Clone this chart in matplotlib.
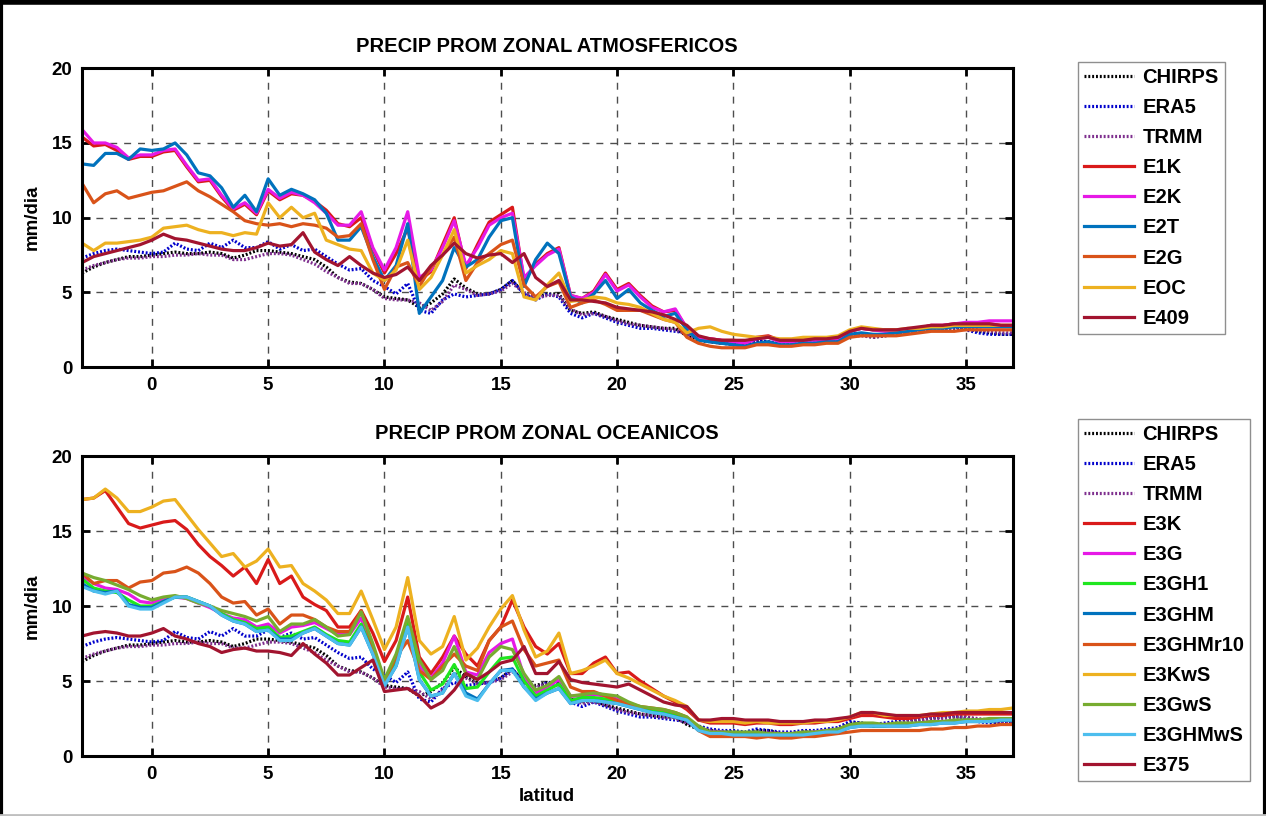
import numpy as np
import matplotlib
matplotlib.use('Agg')
import matplotlib.pyplot as plt
from matplotlib.lines import Line2D

# latitud (grados), paso de 0.5
lat = np.arange(-3, 37.01, 0.5)

# referencias (iguales en ambos paneles)
chirps = [6.3, 6.7, 7.0, 7.2, 7.4, 7.4, 7.5, 7.6, 7.7, 7.6,
          7.6, 7.7, 7.6, 7.3, 7.5, 7.8, 7.8, 7.7, 7.6, 7.4,
          7.2, 6.7, 6.0, 5.7, 5.6, 5.2, 4.7, 4.6, 4.5, 4.0,
          4.3, 4.9, 5.9, 5.3, 4.9, 4.9, 5.2, 5.8, 4.9, 4.7,
          4.9, 4.9, 3.8, 3.6, 3.7, 3.4, 3.2, 3.0, 2.8, 2.7,
          2.6, 2.6, 2.1, 1.8, 1.7, 1.6, 1.6, 1.5, 1.7, 1.7,
          1.5, 1.5, 1.6, 1.6, 1.7, 1.8, 2.2, 2.2, 2.0, 2.1,
          2.2, 2.3, 2.4, 2.5, 2.6, 2.6, 2.6, 2.4, 2.3, 2.2,
          2.2]
era5 = [7.3, 7.6, 7.8, 7.9, 7.8, 7.7, 7.6, 7.7, 8.3, 7.9,
        7.8, 8.3, 8.0, 8.5, 8.0, 8.0, 8.4, 7.9, 8.2, 7.8,
        7.9, 7.4, 6.9, 6.5, 6.6, 5.8, 5.4, 4.9, 5.6, 3.8,
        3.6, 4.5, 4.9, 4.7, 4.8, 4.9, 5.2, 5.8, 4.9, 4.5,
        4.9, 4.7, 3.6, 3.3, 3.6, 3.3, 3.0, 2.8, 2.6, 2.6,
        2.5, 2.4, 2.3, 2.0, 1.8, 1.7, 1.7, 1.6, 1.8, 1.7,
        1.6, 1.6, 1.7, 1.7, 1.8, 1.9, 2.3, 2.2, 2.1, 2.2,
        2.3, 2.4, 2.5, 2.6, 2.6, 2.7, 2.5, 2.3, 2.2, 2.2,
        2.2]
trmm = [6.5, 6.8, 7.0, 7.2, 7.3, 7.3, 7.4, 7.4, 7.5, 7.5,
        7.6, 7.5, 7.5, 7.2, 7.2, 7.4, 7.6, 7.6, 7.5, 7.2,
        6.9, 6.4, 6.0, 5.6, 5.6, 5.2, 4.6, 4.5, 4.5, 4.3,
        3.8, 4.4, 5.5, 5.2, 4.8, 4.9, 5.1, 5.6, 5.0, 4.6,
        4.8, 4.8, 3.9, 3.5, 3.6, 3.4, 3.1, 2.9, 2.8, 2.7,
        2.6, 2.5, 2.2, 1.9, 1.7, 1.6, 1.5, 1.5, 1.6, 1.6,
        1.5, 1.5, 1.6, 1.6, 1.7, 1.8, 2.1, 2.1, 2.0, 2.1,
        2.2, 2.3, 2.4, 2.5, 2.5, 2.6, 2.6, 2.5, 2.4, 2.3,
        2.3]

# experimentos atmosfericos
e1k = [15.4, 14.8, 14.9, 14.5, 13.9, 14.1, 14.1, 14.4, 14.5, 13.4,
       12.4, 12.5, 11.4, 10.5, 10.9, 10.2, 11.8, 11.2, 11.6, 11.5,
       11.1, 10.5, 9.6, 9.4, 10.0, 7.9, 6.3, 7.6, 9.3, 5.8,
       6.4, 8.2, 10.0, 6.6, 8.2, 9.7, 10.2, 10.7, 5.8, 6.9,
       7.6, 8.0, 4.8, 4.6, 5.1, 6.3, 5.2, 5.6, 4.8, 4.1,
       3.7, 3.8, 2.6, 2.0, 1.9, 1.8, 1.8, 1.7, 2.0, 2.1,
       1.8, 1.8, 1.8, 1.9, 1.9, 2.0, 2.4, 2.6, 2.5, 2.5,
       2.5, 2.5, 2.6, 2.8, 2.8, 2.9, 2.9, 2.9, 2.9, 2.8,
       2.8]
e2k = [15.9, 15.0, 15.0, 14.7, 14.0, 14.2, 14.2, 14.5, 14.6, 13.5,
       12.5, 12.6, 11.5, 10.6, 11.0, 10.3, 11.9, 11.3, 11.7, 11.5,
       11.0, 10.3, 9.5, 9.5, 10.4, 8.0, 6.5, 8.0, 10.4, 6.0,
       6.5, 8.0, 9.8, 6.8, 8.0, 9.5, 10.0, 10.3, 6.0, 6.8,
       7.5, 7.9, 4.8, 4.6, 5.0, 6.2, 5.1, 5.5, 4.7, 4.0,
       3.7, 3.9, 2.6, 1.9, 1.9, 1.8, 1.7, 1.6, 1.9, 2.0,
       1.7, 1.7, 1.8, 1.8, 1.8, 1.9, 2.4, 2.6, 2.5, 2.4,
       2.4, 2.5, 2.6, 2.8, 2.8, 2.9, 3.0, 3.0, 3.1, 3.1,
       3.1]
e2t = [13.6, 13.5, 14.3, 14.3, 13.9, 14.6, 14.5, 14.6, 15.0, 14.2,
       13.0, 12.8, 12.0, 10.7, 11.5, 10.4, 12.6, 11.5, 11.9, 11.6,
       11.2, 10.3, 8.5, 8.5, 9.4, 7.4, 5.8, 6.8, 9.6, 3.6,
       4.7, 5.8, 8.0, 6.7, 7.2, 8.7, 9.8, 10.0, 5.4, 7.2,
       8.3, 7.6, 4.7, 4.3, 4.9, 5.8, 4.6, 5.2, 4.3, 3.8,
       3.4, 3.6, 2.5, 1.8, 1.7, 1.6, 1.5, 1.4, 1.6, 1.7,
       1.5, 1.5, 1.6, 1.6, 1.7, 1.7, 2.2, 2.3, 2.2, 2.2,
       2.3, 2.4, 2.5, 2.6, 2.6, 2.7, 2.7, 2.7, 2.7, 2.7,
       2.7]
e2g = [12.3, 11.0, 11.6, 11.8, 11.3, 11.5, 11.7, 11.8, 12.1, 12.4,
       11.8, 11.4, 10.9, 10.4, 9.8, 9.6, 9.5, 9.6, 9.4, 9.6,
       9.5, 9.3, 8.7, 8.8, 9.6, 7.2, 5.2, 6.7, 7.0, 5.4,
       6.7, 7.5, 8.7, 5.8, 7.0, 7.6, 8.2, 8.5, 5.5, 4.7,
       5.4, 5.7, 4.0, 4.3, 4.5, 4.2, 3.8, 3.8, 3.8, 3.5,
       3.2, 3.0, 2.0, 1.6, 1.4, 1.3, 1.3, 1.3, 1.5, 1.5,
       1.4, 1.4, 1.5, 1.5, 1.6, 1.6, 2.0, 2.1, 2.1, 2.1,
       2.1, 2.2, 2.3, 2.4, 2.4, 2.4, 2.5, 2.5, 2.5, 2.5,
       2.5]
eoc = [8.3, 7.8, 8.3, 8.3, 8.4, 8.5, 8.7, 9.3, 9.4, 9.5,
       9.2, 9.0, 9.0, 8.8, 9.0, 8.9, 11.0, 10.0, 10.7, 10.0,
       10.3, 8.5, 8.2, 7.9, 7.8, 6.3, 5.8, 6.5, 8.5, 5.2,
       6.0, 7.5, 9.2, 6.3, 6.8, 7.2, 7.8, 7.6, 4.7, 4.5,
       5.5, 6.3, 4.4, 4.5, 4.7, 4.6, 4.3, 4.2, 4.0, 3.6,
       3.2, 3.0, 2.3, 2.6, 2.7, 2.4, 2.2, 2.1, 2.0, 2.0,
       1.9, 1.9, 2.0, 2.0, 2.0, 2.1, 2.5, 2.7, 2.6, 2.5,
       2.5, 2.6, 2.6, 2.7, 2.7, 2.8, 2.8, 2.8, 2.8, 2.8,
       2.8]
e409 = [7.0, 7.4, 7.6, 7.8, 8.0, 8.2, 8.5, 8.9, 8.6, 8.5,
        8.3, 8.1, 7.9, 7.8, 7.8, 8.0, 8.3, 8.1, 8.2, 9.0,
        7.7, 7.2, 6.8, 7.4, 6.8, 6.3, 6.0, 6.2, 6.7, 5.8,
        6.8, 7.5, 8.3, 7.6, 7.3, 7.5, 7.6, 7.0, 7.6, 6.0,
        5.4, 5.8, 4.5, 4.5, 4.4, 4.3, 4.0, 3.9, 3.8, 3.7,
        3.5, 3.2, 2.8, 2.1, 1.9, 1.8, 1.8, 1.8, 1.9, 2.0,
        1.8, 1.8, 1.8, 1.9, 1.9, 2.0, 2.4, 2.6, 2.5, 2.5,
        2.5, 2.6, 2.7, 2.8, 2.8, 2.9, 2.9, 2.9, 2.9, 2.8,
        2.8]

# experimentos oceanicos
e3k = [17.1, 17.2, 17.7, 16.6, 15.5, 15.2, 15.4, 15.6, 15.7, 15.1,
       14.1, 13.3, 12.7, 12.0, 12.6, 11.5, 13.1, 11.5, 12.0, 10.6,
       10.1, 9.7, 8.6, 8.6, 9.7, 8.2, 6.3, 7.7, 10.6, 6.6,
       5.5, 6.6, 8.0, 6.8, 6.0, 7.7, 8.6, 10.4, 8.6, 7.3,
       6.8, 7.5, 5.5, 5.5, 6.2, 6.6, 5.5, 5.6, 5.0, 4.5,
       4.0, 3.6, 3.1, 2.4, 2.2, 2.2, 2.2, 2.1, 2.2, 2.2,
       2.1, 2.1, 2.2, 2.2, 2.3, 2.3, 2.5, 2.7, 2.7, 2.6,
       2.5, 2.5, 2.6, 2.7, 2.7, 2.8, 2.8, 2.8, 2.8, 2.8,
       2.8]
e3g = [12.0, 11.5, 11.2, 11.1, 10.8, 10.3, 10.2, 10.5, 10.6, 10.5,
       10.2, 9.9, 9.5, 9.2, 9.1, 8.6, 8.8, 8.2, 8.6, 8.7,
       8.9, 8.5, 8.1, 8.1, 9.2, 7.2, 5.0, 6.5, 9.0, 6.0,
       5.2, 6.2, 8.0, 5.6, 5.4, 6.9, 7.5, 7.8, 5.3, 4.2,
       4.6, 5.1, 4.0, 4.0, 4.1, 4.0, 3.8, 3.5, 3.2, 3.0,
       2.9, 2.8, 2.5, 1.8, 1.6, 1.6, 1.5, 1.5, 1.5, 1.5,
       1.5, 1.5, 1.5, 1.6, 1.7, 1.7, 2.0, 2.1, 2.1, 2.1,
       2.1, 2.1, 2.2, 2.3, 2.3, 2.3, 2.4, 2.4, 2.4, 2.4,
       2.4]
e3gh1 = [11.8, 11.2, 11.0, 10.9, 10.4, 10.0, 10.0, 10.3, 10.6, 10.6,
         10.3, 10.0, 9.5, 9.1, 8.9, 8.5, 8.6, 7.9, 8.0, 8.3,
         8.6, 8.1, 7.7, 7.6, 8.8, 6.9, 4.8, 6.2, 9.0, 5.6,
         4.4, 4.8, 6.1, 4.5, 4.6, 5.6, 6.5, 6.6, 5.0, 4.0,
         4.4, 4.8, 3.7, 3.9, 3.9, 3.8, 3.6, 3.4, 3.2, 3.0,
         2.9, 2.7, 2.5, 1.8, 1.5, 1.5, 1.5, 1.5, 1.5, 1.4,
         1.4, 1.4, 1.5, 1.5, 1.6, 1.7, 2.0, 2.1, 2.0, 2.0,
         2.1, 2.1, 2.2, 2.2, 2.3, 2.3, 2.4, 2.4, 2.4, 2.4,
         2.4]
e3ghm = [11.5, 11.0, 10.9, 11.0, 10.1, 9.9, 9.9, 10.3, 10.6, 10.6,
         10.3, 10.0, 9.4, 9.0, 8.8, 8.3, 8.4, 7.8, 7.8, 8.2,
         8.5, 8.0, 7.5, 7.4, 8.6, 6.8, 4.7, 6.0, 8.6, 5.1,
         4.0, 4.2, 5.5, 4.2, 3.8, 4.8, 5.7, 5.8, 4.6, 3.8,
         4.2, 4.5, 3.5, 3.7, 3.7, 3.6, 3.5, 3.3, 3.1, 2.9,
         2.8, 2.6, 2.4, 1.7, 1.5, 1.5, 1.4, 1.4, 1.4, 1.4,
         1.4, 1.4, 1.4, 1.5, 1.6, 1.6, 1.9, 2.0, 2.0, 2.0,
         2.0, 2.0, 2.1, 2.1, 2.2, 2.2, 2.3, 2.3, 2.3, 2.4,
         2.4]
e3ghmr10 = [12.2, 11.5, 11.7, 11.7, 11.2, 11.6, 11.7, 12.2, 12.3, 12.6,
            12.2, 11.5, 10.6, 10.2, 10.3, 9.4, 9.8, 8.8, 9.4, 9.4,
            9.1, 8.6, 8.3, 8.3, 9.7, 7.3, 5.0, 6.6, 7.7, 5.7,
            5.1, 6.0, 6.8, 6.0, 5.7, 7.7, 8.6, 9.0, 7.1, 6.0,
            6.2, 6.4, 4.6, 4.3, 4.3, 4.0, 3.7, 3.5, 3.3, 3.2,
            3.1, 2.9, 2.6, 1.7, 1.3, 1.3, 1.3, 1.3, 1.2, 1.3,
            1.2, 1.2, 1.3, 1.3, 1.4, 1.5, 1.6, 1.7, 1.7, 1.7,
            1.7, 1.7, 1.7, 1.8, 1.8, 1.9, 1.9, 2.0, 2.0, 2.1,
            2.1]
e3kws = [17.1, 17.2, 17.8, 17.2, 16.3, 16.3, 16.6, 17.0, 17.1, 16.1,
         15.1, 14.2, 13.3, 13.5, 12.6, 13.0, 13.8, 12.6, 12.7, 11.5,
         11.0, 10.4, 9.5, 9.5, 11.0, 9.1, 7.1, 8.6, 11.9, 7.7,
         6.8, 7.3, 9.3, 6.4, 7.2, 8.6, 9.8, 10.7, 8.4, 6.6,
         7.0, 8.2, 5.5, 5.7, 6.0, 6.4, 5.5, 5.2, 4.8, 4.4,
         4.0, 3.7, 3.3, 2.4, 2.3, 2.3, 2.3, 2.2, 2.3, 2.2,
         2.2, 2.2, 2.2, 2.3, 2.3, 2.4, 2.6, 2.9, 2.9, 2.7,
         2.7, 2.7, 2.7, 2.8, 2.9, 2.9, 3.0, 3.0, 3.1, 3.1,
         3.2]
e3gws = [12.2, 11.9, 11.7, 11.4, 11.1, 10.7, 10.4, 10.6, 10.7, 10.5,
         10.2, 10.0, 9.7, 9.5, 9.3, 9.0, 9.3, 8.3, 8.8, 8.8,
         9.1, 8.6, 8.0, 8.1, 9.6, 7.5, 5.1, 6.8, 9.3, 6.4,
         5.1, 5.7, 7.3, 5.5, 5.1, 6.6, 7.3, 7.1, 5.5, 4.4,
         4.7, 5.3, 4.0, 4.1, 4.2, 4.1, 4.0, 3.6, 3.3, 3.2,
         3.1, 2.9, 2.6, 2.0, 1.6, 1.6, 1.6, 1.6, 1.6, 1.5,
         1.5, 1.5, 1.6, 1.6, 1.7, 1.8, 2.1, 2.2, 2.2, 2.1,
         2.2, 2.2, 2.2, 2.3, 2.3, 2.4, 2.4, 2.4, 2.5, 2.5,
         2.5]
e3ghmws = [11.3, 11.0, 10.8, 11.0, 10.0, 9.8, 9.8, 10.2, 10.6, 10.6,
           10.3, 10.0, 9.4, 9.0, 8.8, 8.3, 8.4, 7.7, 7.7, 8.2,
           8.5, 8.0, 7.5, 7.4, 8.6, 6.8, 4.7, 6.0, 8.6, 5.1,
           4.0, 4.2, 5.5, 4.0, 3.7, 4.8, 5.7, 5.7, 4.6, 3.7,
           4.2, 4.5, 3.5, 3.7, 3.7, 3.6, 3.5, 3.3, 3.1, 2.9,
           2.8, 2.6, 2.4, 1.7, 1.5, 1.5, 1.4, 1.4, 1.4, 1.4,
           1.4, 1.4, 1.4, 1.5, 1.6, 1.6, 1.9, 2.0, 2.0, 2.0,
           2.0, 2.0, 2.1, 2.1, 2.2, 2.2, 2.3, 2.3, 2.3, 2.4,
           2.4]
e375 = [8.0, 8.2, 8.3, 8.2, 8.0, 8.0, 8.2, 8.5, 8.0, 7.8,
        7.5, 7.3, 6.9, 7.1, 7.2, 7.0, 7.0, 6.9, 6.7, 7.5,
        6.8, 6.2, 5.4, 5.4, 5.9, 6.4, 4.3, 4.4, 4.5, 4.0,
        3.2, 3.6, 4.4, 5.5, 5.1, 5.6, 6.2, 6.4, 7.3, 5.5,
        5.5, 6.3, 5.1, 4.9, 4.8, 4.7, 4.6, 4.8, 4.4, 4.0,
        3.6, 3.4, 3.3, 2.4, 2.4, 2.5, 2.5, 2.4, 2.4, 2.4,
        2.3, 2.3, 2.3, 2.4, 2.4, 2.5, 2.6, 2.9, 2.9, 2.8,
        2.7, 2.7, 2.7, 2.8, 2.8, 2.9, 2.9, 2.9, 2.9, 2.9,
        2.9]

# colores tipo MATLAB
c_red = '#d91a1a'
c_mag = '#e619e6'
c_blue = '#0072bd'
c_org = '#d95319'
c_gold = '#edb120'
c_dred = '#a2142f'
c_green = '#1fe61f'
c_olive = '#77ac30'
c_lblue = '#4dbeee'

refs = [('CHIRPS', chirps, 'black'), ('ERA5', era5, '#0000cc'), ('TRMM', trmm, '#7e2f8e')]
atm = [('E1K', e1k, c_red), ('E2K', e2k, c_mag), ('E2T', e2t, c_blue),
       ('E2G', e2g, c_org), ('EOC', eoc, c_gold), ('E409', e409, c_dred)]
oce = [('E3K', e3k, c_red), ('E3G', e3g, c_mag), ('E3GH1', e3gh1, c_green),
       ('E3GHM', e3ghm, c_blue), ('E3GHMr10', e3ghmr10, c_org), ('E3KwS', e3kws, c_gold),
       ('E3GwS', e3gws, c_olive), ('E3GHMwS', e3ghmws, c_lblue), ('E375', e375, c_dred)]

plt.rcParams['font.family'] = ['Liberation Sans', 'DejaVu Sans']
plt.rcParams['font.weight'] = 'bold'

fig = plt.figure(figsize=(12.66, 8.16), dpi=100)
ax1 = fig.add_axes([0.0648, 0.550, 0.735, 0.3664])
ax2 = fig.add_axes([0.0648, 0.0735, 0.735, 0.3676])


def draw_panel(ax, series, title, legend_xy):
    handles = []
    for name, vals, col in refs:
        h, = ax.plot(lat, vals, color=col, lw=2.3, ls=(0, (0.6, 0.6)), label=name)
        handles.append(h)
    for name, vals, col in series:
        h, = ax.plot(lat, vals, color=col, lw=2.3, label=name)
        handles.append(h)
    ax.set_xlim(-3, 37)
    ax.set_ylim(0, 20)
    ax.set_xticks([0, 5, 10, 15, 20, 25, 30, 35])
    ax.set_yticks([0, 5, 10, 15, 20])
    ax.grid(True, color='0.3', lw=1.0, ls=(0, (5, 5)))
    ax.tick_params(direction='in', length=6, width=2, top=True, right=True, labelsize=13.5, pad=7)
    for sp in ax.spines.values():
        sp.set_linewidth(2.2)
    ax.set_ylabel('mm/dia', fontsize=13.5, fontweight='bold', labelpad=8)
    ax.set_title(title, fontsize=14.5, fontweight='bold', pad=12)
    leg = fig.legend(handles=handles, loc='upper left', bbox_to_anchor=legend_xy,
                     frameon=True, fancybox=False, edgecolor='0.45',
                     prop={'weight': 'bold', 'size': 14.5}, handlelength=2.5,
                     handletextpad=0.4, labelspacing=0.55, borderpad=0.3,
                     borderaxespad=0)
    leg.get_frame().set_linewidth(1.0)
    return leg


draw_panel(ax1, atm, 'PRECIP PROM ZONAL ATMOSFERICOS', (0.8515, 0.924))
draw_panel(ax2, oce, 'PRECIP PROM ZONAL OCEANICOS', (0.8515, 0.4865))
ax2.set_xlabel('latitud', fontsize=13.5, fontweight='bold', labelpad=4)

# marco negro de la figura
fig.add_artist(Line2D([0.001, 0.001], [0, 1], transform=fig.transFigure, color='black', lw=3))
fig.add_artist(Line2D([0.999, 0.999], [0, 1], transform=fig.transFigure, color='black', lw=3))
fig.add_artist(Line2D([0, 1], [0.997, 0.997], transform=fig.transFigure, color='black', lw=4))
fig.add_artist(Line2D([0, 1], [0.001, 0.001], transform=fig.transFigure, color='0.75', lw=2))

fig.savefig('out.png', dpi=100)
